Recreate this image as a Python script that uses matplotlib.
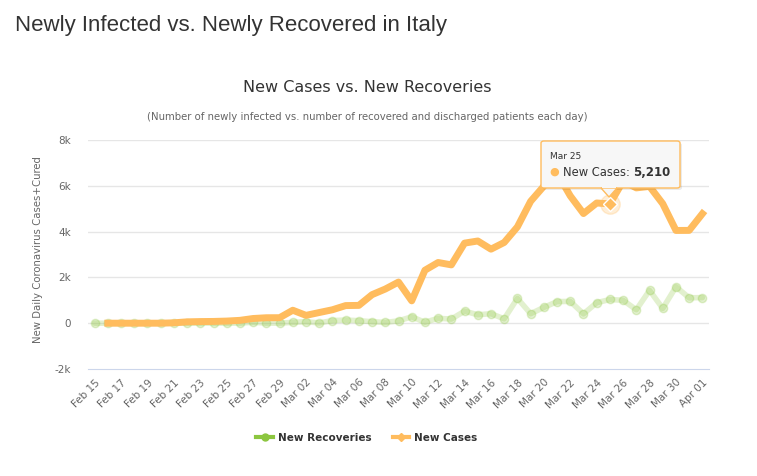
import numpy as np
import pandas as pd
import matplotlib
matplotlib.use("Agg")
import matplotlib.pyplot as plt
from matplotlib.lines import Line2D
from matplotlib.patches import FancyBboxPatch, Polygon

days = pd.date_range("2020-02-15", "2020-04-01", freq="D")
day_labels = [d.strftime("%b %d") for d in days]

new_cases = [np.nan, 0, 0, 0, 0, 0, 17, 59, 71, 77, 93, 125, 205, 238, 240,
             566, 342, 466, 587, 769, 778, 1247, 1492, 1797, 977, 2313, 2651,
             2547, 3497, 3590, 3233, 3526, 4207, 5322, 5986, 6557, 5560, 4789,
             5249, 5210, 6203, 5909, 5974, 5217, 4050, 4053, 4782]
new_recoveries = [0, 0, 0, 0, 0, 0, 0, 0, 0, 1, 0, 2, 42, 1, 0,
                  37, 66, 11, 116, 138, 109, 66, 33, 102, 280, 41, 213,
                  181, 527, 369, 414, 192, 1084, 415, 689, 943, 952, 408,
                  894, 1036, 999, 589, 1434, 646, 1590, 1109, 1118]

orange = "#ffbc5e"
green = "#8cc63f"

W, H = 757, 476
fig = plt.figure(figsize=(W / 100, H / 100), dpi=100)
ax = fig.add_axes([88 / W, 1 - 369 / H, (709 - 88) / W, (369 - 140) / H])

x = np.arange(len(days))
ax.plot(x, new_recoveries, color=green, alpha=0.25, lw=4, marker="o", ms=6,
        zorder=2, solid_capstyle="round")
ax.plot(x, new_cases, color=orange, lw=5, zorder=3, solid_joinstyle="round")

# hovered point (Mar 25)
i_hover = day_labels.index("Mar 25")
ax.plot(x[i_hover], new_cases[i_hover], "o", ms=14, color=orange, alpha=0.25, zorder=4)
ax.plot(x[i_hover], new_cases[i_hover], "D", ms=7, color=orange, mec="white", mew=1, zorder=5)

for s in ["top", "right", "left"]:
    ax.spines[s].set_visible(False)
ax.spines["bottom"].set_color("#ccd6eb")

ax.set_xlim(-0.5, len(days) - 0.5)
ax.set_ylim(-2000, 8000)
yt = [-2000, 0, 2000, 4000, 6000, 8000]
ax.set_yticks(yt)
ax.set_yticklabels(["-2k", "0", "2k", "4k", "6k", "8k"], color="#666666", fontsize=7.5)
ax.set_xticks(x[::2])
ax.set_xticklabels(day_labels[::2], rotation=45, ha="right", va="top",
                   rotation_mode="anchor", color="#666666", fontsize=7.5)
ax.tick_params(axis="both", length=0)
ax.tick_params(axis="y", pad=12)
ax.tick_params(axis="x", pad=6)
for v in yt[1:]:
    ax.axhline(v, color="#e6e6e6", lw=1, zorder=1)

fig.text(38 / W, 1 - 250 / H, "New Daily Coronavirus Cases+Cured", rotation=90,
         ha="center", va="center", fontsize=7.3, color="#666666")

fig.text(15 / W, 1 - 25 / H, "Newly Infected vs. Newly Recovered in Italy",
         fontsize=16, color="#333333", family="Liberation Sans", va="center")
fig.text(367 / W, 1 - 88 / H, "New Cases vs. New Recoveries", ha="center",
         va="center", fontsize=11.5, color="#333333")
fig.text(367 / W, 1 - 117 / H,
         "(Number of newly infected vs. number of recovered and discharged patients each day)",
         ha="center", va="center", fontsize=7.3, color="#666666")

# tooltip
shadow = FancyBboxPatch((543 / W, 1 - 190 / H), (680 - 541) / W, (188 - 141) / H,
                        boxstyle="round,pad=0,rounding_size=0.004", transform=fig.transFigure,
                        facecolor="#000000", alpha=0.08, edgecolor="none", zorder=9)
fig.patches.append(shadow)
box = FancyBboxPatch((541 / W, 1 - 188 / H), (680 - 541) / W, (188 - 141) / H,
                     boxstyle="round,pad=0,rounding_size=0.004", transform=fig.transFigure,
                     facecolor="#f7f7f7", edgecolor=orange, lw=1, zorder=10)
fig.patches.append(box)
tri = Polygon([(601 / W, 1 - 188 / H), (617 / W, 1 - 188 / H), (609 / W, 1 - 197 / H)],
              closed=True, transform=fig.transFigure, facecolor="#f7f7f7",
              edgecolor=orange, lw=1, zorder=10)
fig.patches.append(tri)
fig.patches.append(Polygon([(602 / W, 1 - 187.5 / H), (616 / W, 1 - 187.5 / H)],
                           closed=False, transform=fig.transFigure,
                           edgecolor="#f7f7f7", lw=1.5, zorder=10.5))
fig.text(550 / W, 1 - 157 / H, "Mar 25", fontsize=6.5, color="#333333", va="center", zorder=11)
fig.text(549 / W, 1 - 172 / H, "\u25cf", fontsize=8, color=orange, va="center", zorder=11)
fig.text(563 / W, 1 - 172 / H, "New Cases:", fontsize=8.3, color="#333333", va="center", zorder=11)
fig.text(633 / W, 1 - 172 / H, "5,210", fontsize=8.5, color="#333333", va="center",
         fontweight="bold", zorder=11)

handles = [Line2D([], [], color=green, lw=3, marker="o", ms=5),
           Line2D([], [], color=orange, lw=3, marker="D", ms=4)]
fig.legend(handles, ["New Recoveries", "New Cases"], loc="center",
           bbox_to_anchor=(367 / W, 1 - 438 / H), ncol=2, frameon=False,
           prop={"size": 7.5, "weight": "bold"}, handlelength=1.6,
           handletextpad=0.5, columnspacing=2.0, labelcolor="#333333")

fig.savefig("out.png", dpi=100)
